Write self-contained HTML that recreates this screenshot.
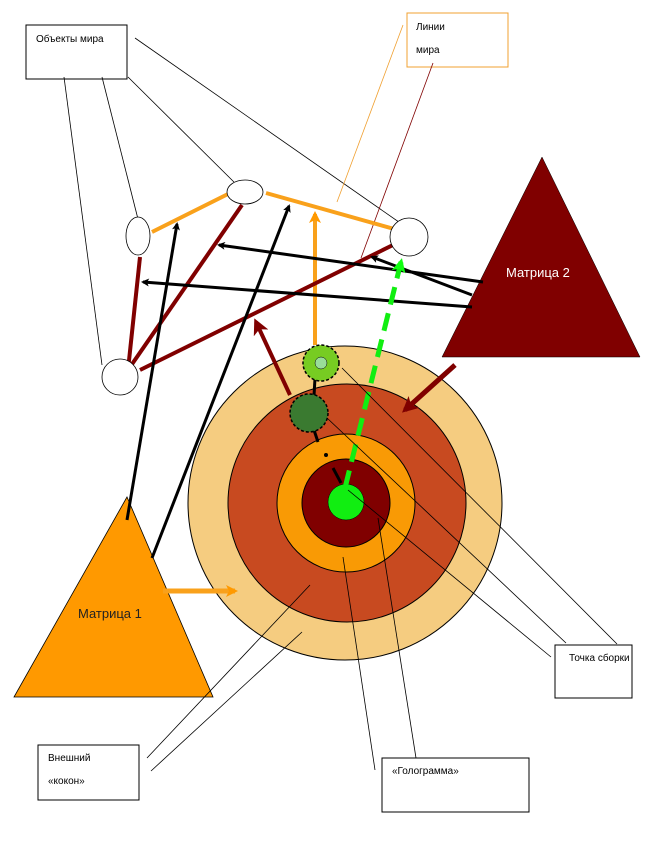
<!DOCTYPE html>
<html><head><meta charset="utf-8"><style>
html,body{margin:0;padding:0;background:#fff;}
svg{display:block;font-family:"Liberation Sans","DejaVu Sans",sans-serif;}
</style></head><body>
<svg width="660" height="842" viewBox="0 0 660 842" xmlns="http://www.w3.org/2000/svg">
<defs>
<marker id="ab" markerWidth="8" markerHeight="8" refX="6" refY="4" orient="auto" markerUnits="userSpaceOnUse"><path d="M0,0 L8,4 L0,8 L2,4z" fill="#000"/></marker>
<marker id="ar" markerWidth="16" markerHeight="16" refX="12" refY="8" orient="auto" markerUnits="userSpaceOnUse"><path d="M0,0 L16,8 L0,16 L4,8z" fill="#800000"/></marker>
<marker id="ao" markerWidth="12" markerHeight="12" refX="9" refY="6" orient="auto" markerUnits="userSpaceOnUse"><path d="M0,0 L12,6 L0,12 L3,6z" fill="#f90"/></marker>
<marker id="ag" markerWidth="14" markerHeight="14" refX="10" refY="7" orient="auto" markerUnits="userSpaceOnUse"><path d="M0,0 L14,7 L0,14 L3,7z" fill="#1f1"/></marker>
</defs>

<!-- boxes -->
<rect x="26" y="25" width="101" height="54" fill="#fff" stroke="#000"/>
<text x="36" y="42" font-size="10">Объекты мира</text>
<rect x="407" y="13" width="101" height="54" fill="#fff" stroke="#f0a030"/>
<text x="416" y="30" font-size="10">Линии</text>
<text x="416" y="53" font-size="10">мира</text>

<!-- thin callout lines top -->
<g stroke="#000" stroke-width="0.8" fill="none">
<line x1="135" y1="38" x2="406" y2="227"/>
<line x1="128" y1="77" x2="240" y2="188"/>
<line x1="102" y1="77" x2="140" y2="227"/>
<line x1="64" y1="77" x2="102" y2="365"/>
</g>
<line x1="403" y1="25" x2="337" y2="202" stroke="#f0a030" stroke-width="0.8"/>
<line x1="433" y1="63" x2="361" y2="258" stroke="#800000" stroke-width="0.8"/>

<!-- target circles -->
<circle cx="345" cy="503" r="157" fill="#f5cc80" stroke="#000"/>
<circle cx="347" cy="503" r="119" fill="#c84a20" stroke="#000"/>
<circle cx="346" cy="503" r="69" fill="#f99a05" stroke="#000"/>
<circle cx="346" cy="503" r="44" fill="#800000" stroke="#000"/>
<circle cx="346" cy="502" r="18" fill="#1e1" stroke="#000" stroke-width="0.5"/>

<!-- Matrix triangles -->
<polygon points="127,497 14,697 213,697" fill="#f90" stroke="#000" stroke-width="0.8"/>
<text x="78" y="618" font-size="13" fill="#222">Матрица 1</text>
<polygon points="542,157 442,357 640,357" fill="#800000" stroke="#000" stroke-width="0.5"/>
<text x="506" y="277" font-size="13" fill="#fff">Матрица 2</text>

<!-- orange thick lines -->
<g stroke="#f9a11b" stroke-width="4" fill="none">
<line x1="152" y1="232" x2="230" y2="193"/>
<line x1="266" y1="193" x2="405" y2="232"/>
</g>
<line x1="315" y1="345" x2="315" y2="214" stroke="#f9a11b" stroke-width="4" marker-end="url(#ao)"/>

<!-- dark red thick lines -->
<g stroke="#800000" stroke-width="4">
<line x1="140" y1="257" x2="128" y2="370"/>
<line x1="242" y1="205" x2="128" y2="370"/>
<line x1="395" y1="244" x2="140" y2="370"/>
</g>
<line x1="290" y1="395" x2="256" y2="322" stroke="#800000" stroke-width="4" marker-end="url(#ar)"/>
<line x1="455" y1="365" x2="405" y2="410" stroke="#800000" stroke-width="5" marker-end="url(#ar)"/>

<!-- black arrows -->
<g stroke="#000" stroke-width="3">
<line x1="483" y1="282" x2="219" y2="245" marker-end="url(#ab)"/>
<line x1="472" y1="295" x2="372" y2="257" marker-end="url(#ab)"/>
<line x1="472" y1="307" x2="143" y2="282" marker-end="url(#ab)"/>
<line x1="127" y1="520" x2="177" y2="224" marker-end="url(#ab)"/>
<line x1="152" y1="558" x2="289" y2="206" marker-end="url(#ab)"/>
</g>

<!-- orange arrow -->
<line x1="163" y1="591" x2="235" y2="591" stroke="#f9a11b" stroke-width="5" marker-end="url(#ao)"/>

<!-- green dashed -->
<line x1="345" y1="488" x2="401" y2="262" stroke="#1e1" stroke-width="5" stroke-dasharray="18,9" marker-end="url(#ag)"/>

<!-- node ellipses -->
<g fill="#fff" stroke="#000" stroke-width="0.8">
<ellipse cx="245" cy="192" rx="18" ry="12"/>
<ellipse cx="138" cy="236" rx="12" ry="19"/>
<circle cx="409" cy="237" r="19"/>
<circle cx="120" cy="377" r="18"/>
</g>

<!-- small green circles -->
<line x1="315" y1="378" x2="314" y2="396" stroke="#000" stroke-width="3"/>
<line x1="314" y1="430" x2="318" y2="442" stroke="#000" stroke-width="3"/>
<circle cx="326" cy="455" r="2" fill="#000"/>
<line x1="333" y1="468" x2="341" y2="483" stroke="#000" stroke-width="3"/>
<circle cx="321" cy="363" r="18" fill="#7c2" stroke="#000" stroke-width="1.5" stroke-dasharray="3,2"/>
<circle cx="321" cy="363" r="6" fill="#9d9" stroke="#000" stroke-width="0.5"/>
<circle cx="309" cy="413" r="19" fill="#396" stroke="#000" stroke-width="1.5" stroke-dasharray="3,2" style="fill:#3a7a30"/>

<!-- callout thin lines bottom -->
<g stroke="#000" stroke-width="0.8" fill="none">
<line x1="342" y1="368" x2="617" y2="644"/>
<line x1="327" y1="418" x2="566" y2="643"/>
<line x1="348" y1="490" x2="551" y2="657"/>
<line x1="343" y1="557" x2="375" y2="770"/>
<line x1="378" y1="518" x2="416" y2="758"/>
<line x1="310" y1="585" x2="147" y2="758"/>
<line x1="302" y1="632" x2="151" y2="771"/>
</g>

<rect x="555" y="645" width="77" height="53" fill="#fff" stroke="#000"/>
<text x="569" y="661" font-size="10">Точка сборки</text>
<rect x="38" y="745" width="101" height="55" fill="#fff" stroke="#000"/>
<text x="48" y="761" font-size="10">Внешний</text>
<text x="48" y="784" font-size="10">«кокон»</text>
<rect x="382" y="758" width="147" height="54" fill="#fff" stroke="#000"/>
<text x="392" y="774" font-size="10">«Голограмма»</text>
</svg>
</body></html>
